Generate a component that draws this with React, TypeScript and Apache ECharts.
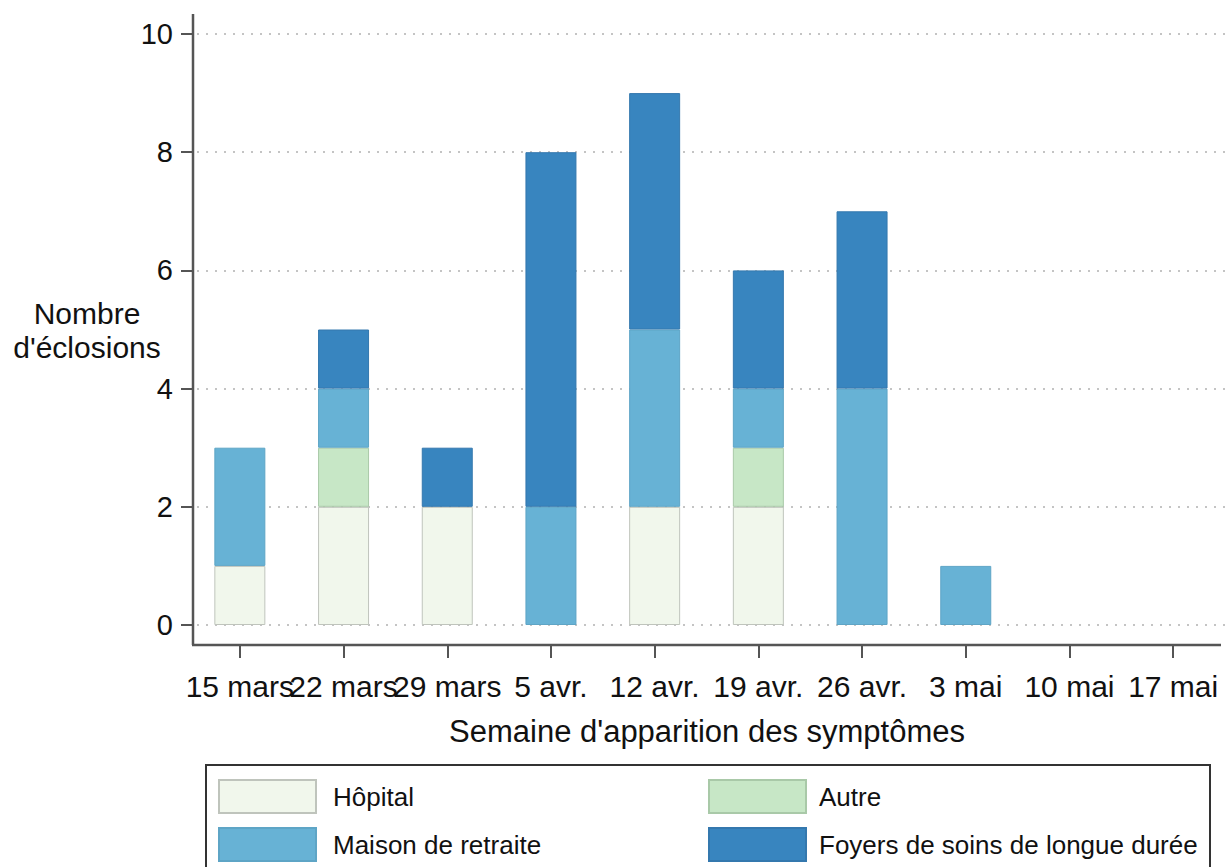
import React, { useEffect, useRef } from "react";
import * as echarts from "echarts";

const categories = ["15 mars", "22 mars", "29 mars", "5 avr.", "12 avr.", "19 avr.", "26 avr.", "3 mai", "10 mai", "17 mai"];
const hopital = [1, 2, 2, 0, 2, 2, 0, 0, 0, 0];
const autre = [0, 1, 0, 0, 0, 1, 0, 0, 0, 0];
const maison = [2, 1, 0, 2, 3, 1, 4, 1, 0, 0];
const foyers = [0, 1, 1, 6, 4, 2, 3, 0, 0, 0];
const seriesNames = ["Hôpital", "Autre", "Maison de retraite", "Foyers de soins de longue durée"];

const FONT = "'Liberation Sans', Arial, sans-serif";

export default function App() {
  const ref = useRef<HTMLDivElement>(null);
  useEffect(() => {
    if (!ref.current) return;
    const chart = echarts.init(ref.current, null, { renderer: "svg" });
    const fills = ["#f1f7ec", "#c7e7c6", "#67b2d5", "#3885bf"];
    const borders = ["#bfc4bc", "#a9c9a8", "#5ea5c6", "#3478ae"];
    const values = [hopital, autre, maison, foyers];
    const series = seriesNames.map((name, i) => ({
      name,
      type: "bar",
      stack: "total",
      barWidth: 51,
      xAxisIndex: 0,
      yAxisIndex: 0,
      data: values[i].map((v) => (v === 0 ? null : v)),
      itemStyle: { color: fills[i], borderColor: borders[i], borderWidth: 1 },
    }));
    const hidden = { axisLine: { show: false }, axisTick: { show: false }, axisLabel: { show: false }, splitLine: { show: false } };
    chart.setOption({
      animation: false,
      textStyle: { fontFamily: FONT },
      grid: [
        { left: 188, right: 0, top: 34, bottom: 242, containLabel: false },
        { left: 188, right: 0, top: 644, height: 1, containLabel: false },
        { left: 193, width: 1, top: 34, bottom: 242, containLabel: false },
      ],
      xAxis: [
        { type: "category", gridIndex: 0, data: categories, boundaryGap: true, ...hidden },
        {
          type: "category",
          gridIndex: 1,
          data: categories,
          boundaryGap: true,
          axisLine: { show: false },
          axisTick: { show: true, alignWithLabel: true, length: 13, lineStyle: { color: "#555", width: 2 } },
          axisLabel: { interval: 0, fontSize: 30, color: "#111", margin: 26, fontFamily: FONT },
          splitLine: { show: false },
        },
        { type: "value", gridIndex: 2, ...hidden },
      ],
      yAxis: [
        {
          type: "value",
          gridIndex: 0,
          min: 0,
          max: 10,
          interval: 2,
          axisLine: { show: false },
          axisTick: { show: false },
          axisLabel: { show: false },
          splitLine: { show: true, lineStyle: { color: "#c4c4c4", width: 2, type: [2, 7] } },
        },
        { type: "value", gridIndex: 1, ...hidden },
        {
          type: "value",
          gridIndex: 2,
          min: 0,
          max: 10,
          interval: 2,
          axisLine: { show: false },
          axisTick: { show: true, length: 12, lineStyle: { color: "#555", width: 2 } },
          axisLabel: { fontSize: 29, color: "#111", margin: 20, fontFamily: FONT },
          splitLine: { show: false },
        },
      ],
      legend: [
        {
          data: [seriesNames[0], seriesNames[2]],
          orient: "vertical",
          left: 218,
          top: 779,
          itemWidth: 97,
          itemHeight: 33,
          itemGap: 13,
          icon: "rect",
          padding: 0,
          textStyle: { fontSize: 26, color: "#111", fontFamily: FONT, padding: [0, 0, 0, 12] },
        },
        {
          data: [seriesNames[1], seriesNames[3]],
          orient: "vertical",
          left: 708,
          top: 779,
          itemWidth: 97,
          itemHeight: 33,
          itemGap: 13,
          icon: "rect",
          padding: 0,
          textStyle: { fontSize: 26, color: "#111", fontFamily: FONT, padding: [0, 0, 0, 8] },
        },
      ],
      graphic: [
        { type: "line", shape: { x1: 193, y1: 14, x2: 193, y2: 645 }, style: { stroke: "#555", lineWidth: 2.5 }, z: 10 },
        { type: "line", shape: { x1: 192, y1: 645, x2: 1221, y2: 645 }, style: { stroke: "#555", lineWidth: 2.5 }, z: 10 },
        {
          type: "text",
          x: 87,
          y: 313,
          style: { text: "Nombre", fontSize: 30, fill: "#111", fontFamily: FONT, textAlign: "center", textVerticalAlign: "middle" },
        },
        {
          type: "text",
          x: 87,
          y: 347,
          style: { text: "d'éclosions", fontSize: 30, fill: "#111", fontFamily: FONT, textAlign: "center", textVerticalAlign: "middle" },
        },
        {
          type: "text",
          x: 707,
          y: 731,
          style: { text: "Semaine d'apparition des symptômes", fontSize: 31, fill: "#111", fontFamily: FONT, textAlign: "center", textVerticalAlign: "middle" },
        },
        {
          type: "rect",
          shape: { x: 206, y: 765, width: 1004, height: 120 },
          style: { fill: "none", stroke: "#333", lineWidth: 2 },
        },
      ],
      series,
    });
    return () => chart.dispose();
  }, []);
  return (
    <div
      ref={ref}
      style={{ position: "absolute", left: 0, top: 0, width: 1225, height: 867, background: "#fff" }}
    />
  );
}
